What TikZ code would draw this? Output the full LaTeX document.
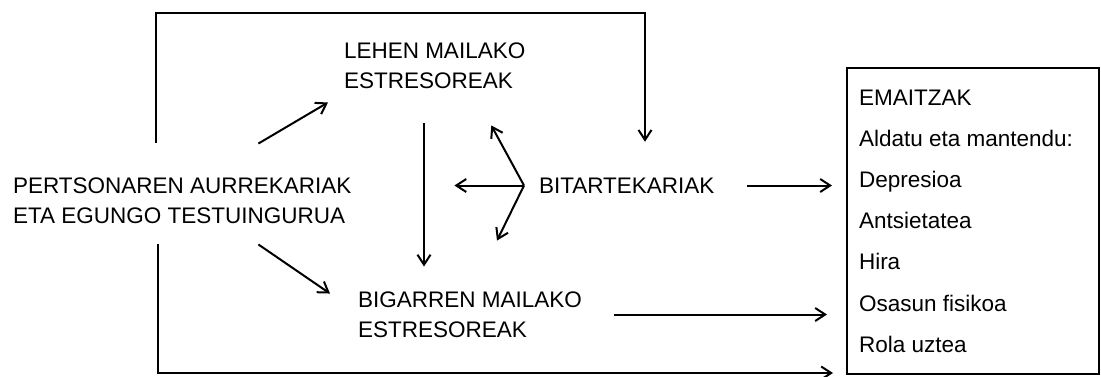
\documentclass[tikz,border=0pt]{standalone}
\usepackage{fontspec}
\setmainfont{Liberation Sans}
\usetikzlibrary{arrows.meta, positioning}
\def\rowsep{41.2}

\begin{document}
\begin{tikzpicture}[x=0.5pt,y=-0.5pt,line width=1pt,draw=black]
    \tikzstyle{every node}=[font=\fontsize{11.25}{15}\selectfont]
    \tikzstyle{txt}=[inner sep=0pt, align=left, anchor=west]
    \tikzstyle{arr}=[-{Straight Barb[length=5pt,width=6.5pt]}]
    \tikzstyle{outbox}=[draw, inner sep=0pt, minimum width=126pt, minimum height=153pt, anchor=north west]

    \useasboundingbox (0,0) rectangle (1101,376);

    % Draw the text nodes
    \node[txt] (ctx) at (12,200.5) {PERTSONAREN AURREKARIAK\\ETA EGUNGO TESTUINGURUA};
    \node[txt] (prim) at (343,65.5) {LEHEN MAILAKO\\ESTRESOREAK};
    \node[txt] (sec) at (357,314.5) {BIGARREN MAILAKO\\ESTRESOREAK};
    \node[txt] (med) at (538,185.5) {BITARTEKARIAK};

    % Draw the outcome box and its lines
    \node[outbox] (box) at (846,67) {};
    \foreach \txt [count=\i] in {EMAITZAK, Aldatu eta mantendu:, Depresioa, Antsietatea, Hira, Osasun fisikoa, Rola uztea}
        \node[inner sep=0pt, anchor=base west] (R-\i) at (858,{105+\rowsep*(\i-1)}) {\txt};

    % Long way round, over the top and under the bottom
    \coordinate (tl) at (156,13);
    \coordinate (tr) at (645,13);
    \draw[arr, shorten <=17pt, shorten >=17.5pt] (ctx.north west -| tl) -- (tl) -- (tr) -- (med.north -| tr);
    \coordinate (bl) at (158,373);
    \draw[arr, shorten <=10pt, shorten >=6.5pt] (ctx.south -| bl) -- (bl) -- (bl -| box.west);

    % Context to the stressors
    \draw[arr] ([shift={(-94,-33)}]ctx.north east) -- ([shift={(-15,13)}]prim.south west);
    \draw[arr] ([shift={(-94,20)}]ctx.south east) -- ([shift={(-27,3)}]sec.north west);
    \draw[arr, shorten >=12pt] ([shift={(81,34)}]prim.south west) coordinate (v) -- (v |- sec.north);

    % Mediators fan out
    \coordinate (mj) at ([xshift=-7pt]med.west);
    \draw[arr, shorten >=51pt] (mj) -- (mj -| ctx.east);
    \draw[arr] (mj) -- ([shift={(-35,36)}]prim.south east);
    \draw[arr] (mj) -- ([shift={(140,-50)}]sec.north west);

    % Into the outcomes
    \draw[arr, shorten <=16pt, shorten >=7pt] (med.east) -- (med.east -| box.west);
    \draw[arr, shorten <=15.5pt, shorten >=9.5pt] (sec.east) -- (sec.east -| box.west);
\end{tikzpicture}
\end{document}
